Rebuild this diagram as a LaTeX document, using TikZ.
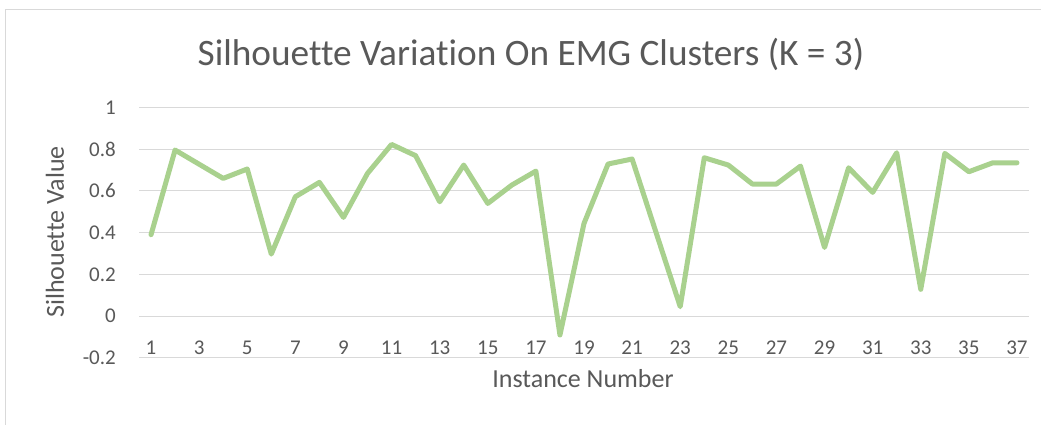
\documentclass[tikz,border=0pt]{standalone}
\usepackage{fontspec}
\setmainfont[Ligatures=NoCommon]{Carlito}
\definecolor{txt}{HTML}{595959}
\definecolor{grid}{HTML}{D9D9D9}
\definecolor{ser}{HTML}{A9D18E}
\begin{document}
\begin{tikzpicture}[x=1pt,y=-1pt,
  gridline/.style={draw=grid,line width=1pt},
  ticklab/.style={text=txt,font=\fontsize{21}{24}\selectfont,inner sep=0pt},
  axtitle/.style={text=txt,font=\fontsize{26}{30}\selectfont,inner sep=0pt},
  series/.style={draw=ser,line width=5pt,line join=round,line cap=round}]
\useasboundingbox (0,0) rectangle (1041,424);
\fill[white] (0,0) rectangle (1041,424);
% chart border
\draw[grid,line width=1pt] (5,430) -- (5,9) -- (1050,9);
% gridlines and y labels
\foreach \v/\lab in {1/1,0.8/0.8,0.6/0.6,0.4/0.4,0.2/0.2,0/0,-0.2/-0.2}{
  \draw[gridline] (139,{316-208.5*\v}) -- (1029,{316-208.5*\v});
  \node[ticklab,anchor=east] (y\lab) at (116,{316-208.5*\v}) {\lab};
}
% x labels
\foreach \i in {1,3,...,37}{
  \node[ticklab] (x\i) at ({139+(\i-0.5)*24.054},348) {\i};
}
% series
\draw[series] plot coordinates {
 ({139+0.5*24.054},{316-208.5*0.39})
 ({139+1.5*24.054},{316-208.5*0.796})
 ({139+2.5*24.054},{316-208.5*0.728})
 ({139+3.5*24.054},{316-208.5*0.66})
 ({139+4.5*24.054},{316-208.5*0.705})
 ({139+5.5*24.054},{316-208.5*0.297})
 ({139+6.5*24.054},{316-208.5*0.572})
 ({139+7.5*24.054},{316-208.5*0.641})
 ({139+8.5*24.054},{316-208.5*0.473})
 ({139+9.5*24.054},{316-208.5*0.684})
 ({139+10.5*24.054},{316-208.5*0.823})
 ({139+11.5*24.054},{316-208.5*0.769})
 ({139+12.5*24.054},{316-208.5*0.548})
 ({139+13.5*24.054},{316-208.5*0.724})
 ({139+14.5*24.054},{316-208.5*0.540})
 ({139+15.5*24.054},{316-208.5*0.628})
 ({139+16.5*24.054},{316-208.5*0.695})
 ({139+17.5*24.054},{316-208.5*(-0.091)})
 ({139+18.5*24.054},{316-208.5*0.444})
 ({139+19.5*24.054},{316-208.5*0.729})
 ({139+20.5*24.054},{316-208.5*0.753})
 ({139+21.5*24.054},{316-208.5*0.399})
 ({139+22.5*24.054},{316-208.5*0.045})
 ({139+23.5*24.054},{316-208.5*0.759})
 ({139+24.5*24.054},{316-208.5*0.724})
 ({139+25.5*24.054},{316-208.5*0.633})
 ({139+26.5*24.054},{316-208.5*0.633})
 ({139+27.5*24.054},{316-208.5*0.719})
 ({139+28.5*24.054},{316-208.5*0.329})
 ({139+29.5*24.054},{316-208.5*0.711})
 ({139+30.5*24.054},{316-208.5*0.593})
 ({139+31.5*24.054},{316-208.5*0.783})
 ({139+32.5*24.054},{316-208.5*0.128})
 ({139+33.5*24.054},{316-208.5*0.780})
 ({139+34.5*24.054},{316-208.5*0.692})
 ({139+35.5*24.054},{316-208.5*0.735})
 ({139+36.5*24.054},{316-208.5*0.735})
};
% titles
\node[text=txt,font=\fontsize{37.3}{41}\selectfont,inner sep=0pt,anchor=base] (title) at (531,65) {Silhouette Variation On EMG Clusters (K = 3)};
\node[axtitle,rotate=90] (ytitle) at (55,232) {Silhouette Value};
\node[axtitle] (xtitle) at (583,379) {Instance Number};
\end{tikzpicture}
\end{document}
